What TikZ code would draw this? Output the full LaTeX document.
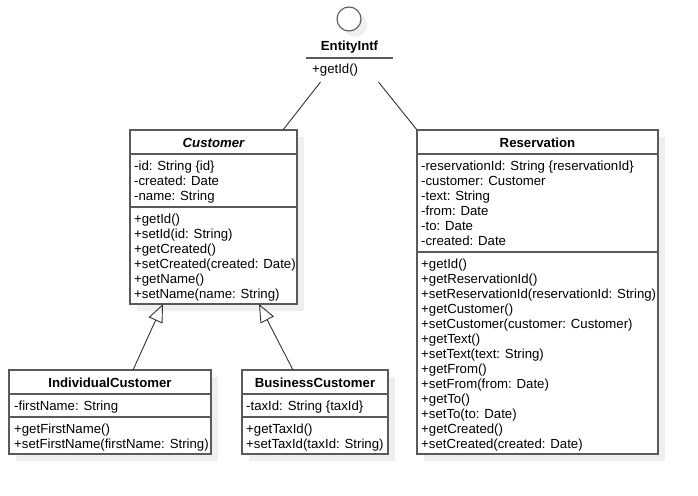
\documentclass[tikz,border=0pt]{standalone}
\usepackage{fontspec}
\setmainfont{Liberation Sans}
\usetikzlibrary{shadows,arrows.meta}
\definecolor{linegray}{HTML}{5A5A5A}
\definecolor{shadowgray}{HTML}{EFEFEF}
\definecolor{conngray}{HTML}{333333}
\begin{document}
\begin{tikzpicture}[x=1pt,y=-1pt,
  umlbox/.style={draw=linegray, line width=1.3pt, fill=white, anchor=north west,
    inner sep=0pt, outer sep=0pt,
    drop shadow={shadow xshift=7pt, shadow yshift=-7pt, fill=shadowgray, opacity=1}},
  sepline/.style={draw=linegray, line width=1.3pt},
  ghost/.style={anchor=north west, inner sep=0pt, outer sep=0pt},
  comptext/.style={align=left, inner sep=0pt, anchor=north west,
    font=\fontsize{13.2}{15}\selectfont},
  titletext/.style={inner sep=0pt, anchor=base, font=\fontsize{13.2}{15}\selectfont\bfseries},
  linetext/.style={inner sep=0pt, anchor=base west, font=\fontsize{13.2}{15}\selectfont},
  assoc/.style={draw=conngray, line width=0.9pt},
  gen/.style={draw=conngray, line width=0.9pt, -{Triangle[open, length=18pt, width=15pt, line width=0.9pt]}},
]
\useasboundingbox (0,0) rectangle (698,495);
\fill[white] (0,0) rectangle (698,495);

% EntityIntf interface
\node[circle, draw=linegray, line width=1.1pt, fill=white, minimum size=24pt, inner sep=0pt,
  drop shadow={shadow xshift=6pt, shadow yshift=-6pt, fill=shadowgray, opacity=1}] (eico) at (349,19) {};
\node[ghost, minimum width=87pt, minimum height=48pt] (ent) at (306,34) {};
\node[titletext] (etitle) at (349.5,51) {EntityIntf};
\draw[sepline] ([yshift=-24pt]ent.north west) -- ([yshift=-24pt]ent.north east);
\node[linetext] (eops) at (312,74) {+getId()};

% Customer
\node[umlbox, minimum width=167pt, minimum height=174pt] (cust) at (130,130) {};
\draw[sepline] ([yshift=-24pt]cust.north west) -- ([yshift=-24pt]cust.north east);
\draw[sepline] ([yshift=-77pt]cust.north west) -- ([yshift=-77pt]cust.north east);
\node[titletext] (custt) at (213.5,147) {\itshape Customer};
\node[comptext] (custa) at (134,159.5) {\strut -id: String \{id\}\\-created: Date\\-name: String};
\node[comptext] (custm) at (134,212.5) {\strut +getId()\\+setId(id: String)\\+getCreated()\\+setCreated(created: Date)\\+getName()\\+setName(name: String)};

% Reservation
\node[umlbox, minimum width=241pt, minimum height=324pt] (res) at (417,130) {};
\draw[sepline] ([yshift=-24pt]res.north west) -- ([yshift=-24pt]res.north east);
\draw[sepline] ([yshift=-122pt]res.north west) -- ([yshift=-122pt]res.north east);
\node[titletext] (rest) at (537.5,147) {Reservation};
\node[comptext] (resa) at (421,159.5) {\strut -reservationId: String \{reservationId\}\\-customer: Customer\\-text: String\\-from: Date\\-to: Date\\-created: Date};
\node[comptext] (resm) at (421,257.5) {\strut +getId()\\+getReservationId()\\+setReservationId(reservationId: String)\\+getCustomer()\\+setCustomer(customer: Customer)\\+getText()\\+setText(text: String)\\+getFrom()\\+setFrom(from: Date)\\+getTo()\\+setTo(to: Date)\\+getCreated()\\+setCreated(created: Date)};

% IndividualCustomer
\node[umlbox, minimum width=202pt, minimum height=84pt] (ind) at (9,370) {};
\draw[sepline] ([yshift=-24pt]ind.north west) -- ([yshift=-24pt]ind.north east);
\draw[sepline] ([yshift=-47pt]ind.north west) -- ([yshift=-47pt]ind.north east);
\node[titletext] (indt) at (110,387) {IndividualCustomer};
\node[comptext] (inda) at (14,399.5) {\strut -firstName: String};
\node[comptext] (indm) at (14,422.5) {\strut +getFirstName()\\+setFirstName(firstName: String)};

% BusinessCustomer
\node[umlbox, minimum width=146pt, minimum height=84pt] (bus) at (242,370) {};
\draw[sepline] ([yshift=-24pt]bus.north west) -- ([yshift=-24pt]bus.north east);
\draw[sepline] ([yshift=-47pt]bus.north west) -- ([yshift=-47pt]bus.north east);
\node[titletext] (bust) at (315,387) {BusinessCustomer};
\node[comptext] (busa) at (246,399.5) {\strut -taxId: String \{taxId\}};
\node[comptext] (busm) at (246,422.5) {\strut +getTaxId()\\+setTaxId(taxId: String)};

% connectors
\draw[assoc] ([xshift=-29pt]ent.south) -- ([xshift=-14pt]cust.north east);
\draw[assoc] ([xshift=29pt]ent.south) -- (res.north west);
\draw[gen] ([xshift=124pt]ind.north west) -- ([xshift=33pt]cust.south west);
\draw[gen] ([xshift=51pt]bus.north west) -- ([xshift=129pt]cust.south west);
\end{tikzpicture}
\end{document}
